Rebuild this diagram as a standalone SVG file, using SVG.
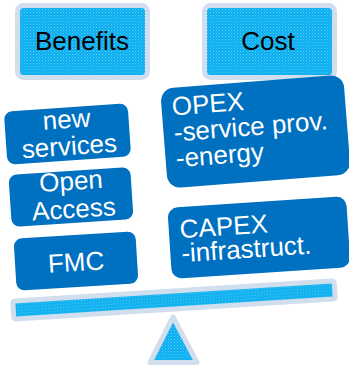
<svg xmlns="http://www.w3.org/2000/svg" width="349" height="366" viewBox="0 0 349 366">
<defs>
<pattern id="dots" width="3" height="3" patternUnits="userSpaceOnUse">
<rect width="3" height="3" fill="#0AAFEF"/>
<rect width="1" height="1" fill="#5FCBF6"/>
<rect x="1.5" y="1.5" width="1" height="1" fill="#3FBEF3"/>
</pattern>
</defs>
<style>
.light{fill:url(#dots);stroke:#D0DEEE;stroke-width:5;stroke-linejoin:round}
.dark{fill:#0070C0}
.hdr{font-family:"Liberation Sans",Arial,sans-serif;font-size:26px;fill:#000;text-anchor:middle}
.wt{font-family:"Liberation Sans",Arial,sans-serif;font-size:26px;fill:#fff}
.mid{text-anchor:middle}
</style>
<g id="benefits">
<rect class="light" x="17.5" y="5.5" width="130" height="72" rx="6"/>
<text class="hdr" x="82" y="50">Benefits</text>
</g>
<g id="cost">
<rect class="light" x="204.5" y="5.5" width="130" height="72" rx="6"/>
<text class="hdr" x="268" y="50">Cost</text>
</g>
<g id="new-services" transform="rotate(-4 67.5 134)">
<rect class="dark" x="5.5" y="107.5" width="124" height="53" rx="8"/>
<text class="wt mid" x="67.5" y="128">new</text>
<text class="wt mid" x="68.5" y="155">services</text>
</g>
<g id="open-access" transform="rotate(-3.8 71 197)">
<rect class="dark" x="10" y="171" width="122" height="52" rx="8"/>
<text class="wt mid" x="72" y="190">Open</text>
<text class="wt mid" x="73" y="218">Access</text>
</g>
<g id="fmc" transform="rotate(-3.5 76 261)">
<rect class="dark" x="15" y="235" width="122" height="52" rx="8"/>
<text class="wt mid" x="76" y="271">FMC</text>
</g>
<g id="opex" transform="rotate(-4.5 255.5 131.5)">
<rect class="dark" x="163.7" y="81.5" width="183.6" height="100" rx="13"/>
<text class="wt" x="174" y="109">OPEX</text>
<text class="wt" x="174" y="135">-service prov.</text>
<text class="wt" x="174" y="161">-energy</text>
</g>
<g id="capex" transform="rotate(-3.8 259 237.5)">
<rect class="dark" x="169.5" y="202" width="179" height="71" rx="10"/>
<text class="wt" x="180.5" y="233">CAPEX</text>
<text class="wt" x="180.5" y="257">-infrastruct.</text>
</g>
<g id="seesaw">
<rect class="light" x="13" y="291" width="322" height="18" rx="2" transform="rotate(-3.6 174 300)"/>
<polygon class="light" points="173,317 150,362.5 197,362.5"/>
</g>
</svg>
